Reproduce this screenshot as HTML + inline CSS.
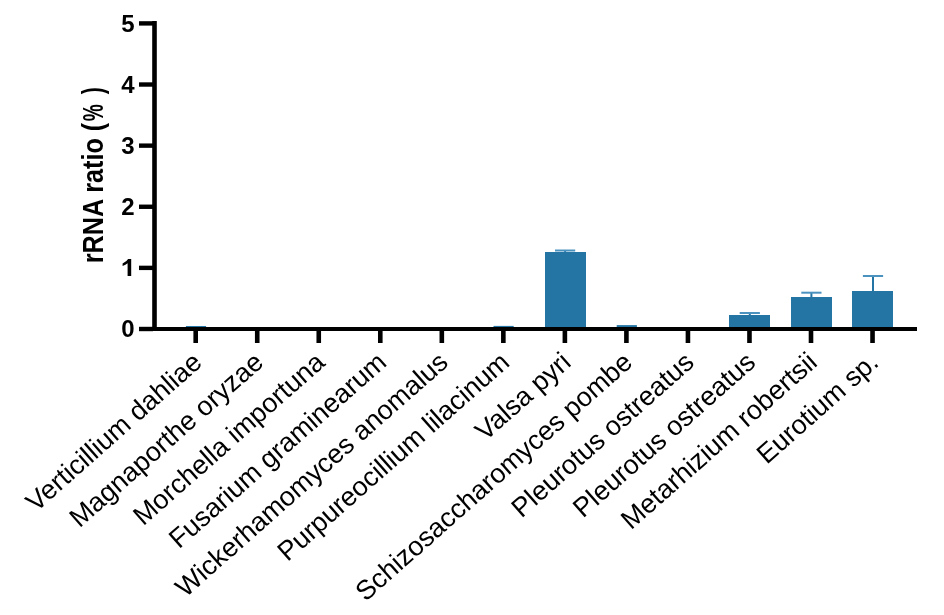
<!DOCTYPE html>
<html><head><meta charset="utf-8"><style>
html,body{margin:0;padding:0;background:#fff;width:944px;height:615px;overflow:hidden}
svg{display:block;will-change:transform}
.yl{font-family:"Liberation Sans",sans-serif;font-weight:bold;font-size:24px;text-anchor:end;fill:#000}
.yt{font-family:"Liberation Sans",sans-serif;font-weight:bold;font-size:24.9px;text-anchor:middle;fill:#000}
.xl{font-family:"Liberation Sans",sans-serif;font-size:27.0px;text-anchor:end;fill:#000}
</style></head><body>
<svg width="944" height="615" viewBox="0 0 944 615">
<rect x="0" y="0" width="944" height="615" fill="#fff"/>
<rect x="545" y="252" width="41" height="77.00" fill="#2475a3"/>
<rect x="729" y="315" width="41" height="14.00" fill="#2475a3"/>
<rect x="791" y="297" width="41" height="32.00" fill="#2475a3"/>
<rect x="852" y="291" width="41" height="38.00" fill="#2475a3"/>
<line x1="565.10" y1="252" x2="565.10" y2="250.5" stroke="#2475a3" stroke-width="2"/>
<line x1="555.00" y1="250.5" x2="575.20" y2="250.5" stroke="#4c92bf" stroke-width="2"/>
<line x1="749.80" y1="315" x2="749.80" y2="313" stroke="#2475a3" stroke-width="2"/>
<line x1="739.70" y1="313" x2="759.90" y2="313" stroke="#4c92bf" stroke-width="2"/>
<line x1="811.40" y1="297" x2="811.40" y2="292.7" stroke="#2475a3" stroke-width="2"/>
<line x1="801.30" y1="292.7" x2="821.50" y2="292.7" stroke="#4c92bf" stroke-width="2"/>
<line x1="873.00" y1="291" x2="873.00" y2="276" stroke="#2475a3" stroke-width="2"/>
<line x1="862.90" y1="276" x2="883.10" y2="276" stroke="#4c92bf" stroke-width="2"/>
<line x1="185.90" y1="327.0" x2="206.10" y2="327.0" stroke="#2475a3" stroke-width="2"/>
<line x1="493.50" y1="326.9" x2="513.70" y2="326.9" stroke="#2475a3" stroke-width="2"/>
<line x1="616.70" y1="326.1" x2="636.90" y2="326.1" stroke="#2475a3" stroke-width="2"/>
<rect x="152.2" y="21" width="4.6" height="310" fill="#000"/>
<rect x="152.2" y="327" width="764.8" height="4" fill="#000"/>
<rect x="139" y="326.80" width="14" height="4.4" fill="#000"/>
<text x="134.5" y="336.70" class="yl">0</text>
<rect x="139" y="265.68" width="14" height="4.4" fill="#000"/>
<path d="M131.2 258.9 H128.1 Q126.6 261.6 122.6 263.4 V266 Q125.7 264.9 127.6 263.3 V276 H131.2 Z" fill="#000"/>
<rect x="139" y="204.56" width="14" height="4.4" fill="#000"/>
<text x="134.5" y="215.26" class="yl">2</text>
<rect x="139" y="143.44" width="14" height="4.4" fill="#000"/>
<text x="134.5" y="154.14" class="yl">3</text>
<rect x="139" y="82.32" width="14" height="4.4" fill="#000"/>
<text x="134.5" y="93.02" class="yl">4</text>
<rect x="139" y="21.20" width="14" height="4.4" fill="#000"/>
<text x="134.5" y="31.90" class="yl">5</text>
<rect x="193.40" y="330" width="4.6" height="13" fill="#000"/>
<rect x="254.93" y="330" width="4.6" height="13" fill="#000"/>
<rect x="316.46" y="330" width="4.6" height="13" fill="#000"/>
<rect x="377.99" y="330" width="4.6" height="13" fill="#000"/>
<rect x="439.52" y="330" width="4.6" height="13" fill="#000"/>
<rect x="501.05" y="330" width="4.6" height="13" fill="#000"/>
<rect x="562.58" y="330" width="4.6" height="13" fill="#000"/>
<rect x="624.11" y="330" width="4.6" height="13" fill="#000"/>
<rect x="685.64" y="330" width="4.6" height="13" fill="#000"/>
<rect x="747.17" y="330" width="4.6" height="13" fill="#000"/>
<rect x="808.70" y="330" width="4.6" height="13" fill="#000"/>
<rect x="870.23" y="330" width="4.6" height="13" fill="#000"/>
<text class="xl" transform="translate(203.40,364.5) rotate(-41.5)" x="0" y="0">Verticillium dahliae</text>
<text class="xl" transform="translate(264.93,364.5) rotate(-41.5)" x="0" y="0">Magnaporthe oryzae</text>
<text class="xl" transform="translate(326.46,364.5) rotate(-41.5)" x="0" y="0">Morchella importuna</text>
<text class="xl" transform="translate(387.99,364.5) rotate(-41.5)" x="0" y="0">Fusarium graminearum</text>
<text class="xl" transform="translate(449.52,364.5) rotate(-41.5)" x="0" y="0">Wickerhamomyces anomalus</text>
<text class="xl" transform="translate(511.05,364.5) rotate(-41.5)" x="0" y="0">Purpureocillium lilacinum</text>
<text class="xl" transform="translate(572.58,364.5) rotate(-41.5)" x="0" y="0">Valsa pyri</text>
<text class="xl" transform="translate(634.11,364.5) rotate(-41.5)" x="0" y="0">Schizosaccharomyces pombe</text>
<text class="xl" transform="translate(695.64,364.5) rotate(-41.5)" x="0" y="0">Pleurotus ostreatus</text>
<text class="xl" transform="translate(757.17,364.5) rotate(-41.5)" x="0" y="0">Pleurotus ostreatus</text>
<text class="xl" transform="translate(818.70,364.5) rotate(-41.5)" x="0" y="0">Metarhizium robertsii</text>
<text class="xl" transform="translate(880.23,364.5) rotate(-41.5)" x="0" y="0">Eurotium sp.</text>
<text class="yt" transform="translate(103.2,263.2) rotate(-90) scale(1,1.195)" x="0" y="0" style="text-anchor:start;font-size:25.2px">rRNA ratio (</text>
<text class="yt" transform="translate(103.2,112.8) rotate(-90) scale(0.77,1.2)" x="0" y="0">%</text>
<text class="yt" style="text-anchor:end" transform="translate(103.2,87.3) rotate(-90) scale(0.85,1.18)" x="0" y="0">)</text>
</svg></body></html>
